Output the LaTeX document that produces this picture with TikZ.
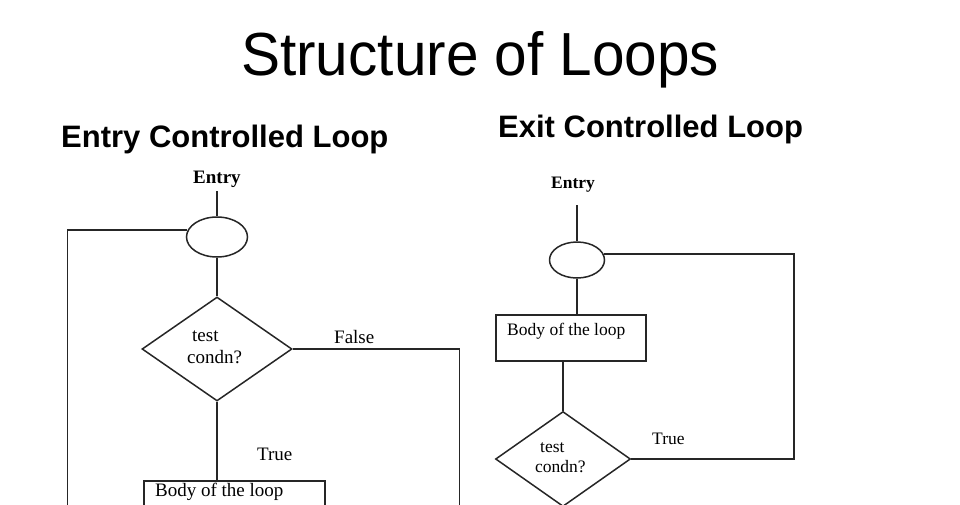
\documentclass[tikz,border=0pt]{standalone}
\usepackage{fontspec}
\setmainfont{Liberation Serif}
\setsansfont{Liberation Sans}
\usetikzlibrary{shapes.geometric}
\begin{document}
\begin{tikzpicture}[x=1pt,y=-1pt,
  line/.style={draw=black!85, line width=1.5pt},
  oval/.style={ellipse, line, inner sep=0pt},
  dia/.style={diamond, line, inner sep=0pt},
  box/.style={rectangle, line, inner sep=0pt, anchor=north west},
  lbl/.style={anchor=base west, inner sep=0pt, text=black},
  ltxt/.style={lbl, font=\fontsize{19}{21}\selectfont},
  rtxt/.style={lbl, font=\fontsize{17.5}{19}\selectfont},
  head/.style={lbl, font=\sffamily\bfseries\fontsize{31}{33}\selectfont},
]
\useasboundingbox (0,0) rectangle (960,504);
\clip (0,0) rectangle (960,504);

% titles
\node[lbl, font=\sffamily\fontsize{58.5}{60}\selectfont] (title) at (241,75) {\scalebox{1}[1.04]{Structure of Loops}};
\node[head] (h1) at (61,147) {Entry Controlled Loop};
\node[head] (h2) at (498,137) {Exit Controlled Loop};

% ---------- entry controlled loop ----------
\node[ltxt, font=\bfseries\fontsize{19}{21}\selectfont] (en1) at (193,183) {Entry};
\coordinate (in1) at (217,191);
\node[oval, minimum width=61pt, minimum height=40pt] (e1) at (217,237) {};
\node[dia, minimum width=150pt, minimum height=104pt] (d1) at (217,349) {};
\node[box, minimum width=181pt, minimum height=50pt] (b1) at (143,480) {};
\coordinate (c1) at (67.6,520);
\coordinate (c2) at (459.5,520);

\node[ltxt] (t1) at (192,341) {test};
\node[ltxt] (k1) at (187,363) {condn?};
\node[ltxt] (f1) at (334,343) {False};
\node[ltxt] (tr1) at (257,460) {True};
\node[ltxt] (bd1) at (155,496) {Body of the loop};

\draw[line] (in1) -- (e1.north);
\draw[line] (e1.south) -- (d1.north);
\draw[line] (d1.south) -- (d1.south |- b1.north);
\draw[line] (e1.167) -- (e1.167 -| c1) -- (c1);
\draw[line] (d1.east) -- (d1.east -| c2) -- (c2);

% ---------- exit controlled loop ----------
\node[rtxt, font=\bfseries\fontsize{17.5}{19}\selectfont] (en2) at (551,188) {Entry};
\coordinate (in2) at (577,205);
\node[oval, minimum width=55pt, minimum height=36pt] (e2) at (577,260) {};
\node[box, minimum width=150pt, minimum height=46pt] (b2) at (495,314) {};
\node[dia, minimum width=135pt, minimum height=95pt] (d2) at (563,459) {};
\coordinate (c3) at (794,0);

\node[rtxt] (bd2) at (507,335) {Body of the loop};
\node[rtxt] (t2) at (540,452) {test};
\node[rtxt] (k2) at (535,472) {condn?};
\node[rtxt] (tr2) at (652,444) {True};

\draw[line] (in2) -- (e2.north);
\draw[line] (e2.south) -- (e2.south |- b2.north);
\draw[line] (d2.north |- b2.south) -- (d2.north);
\draw[line] (d2.east) -| (c3 |- e2.13) -- (e2.13);
\end{tikzpicture}
\end{document}
